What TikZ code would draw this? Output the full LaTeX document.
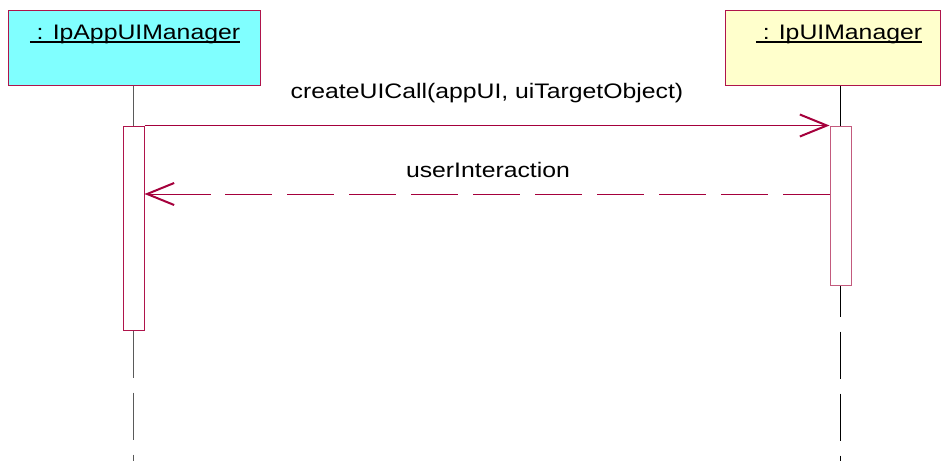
\documentclass[tikz,border=0pt]{standalone}
\usepackage{fontspec}
\setmainfont{Liberation Sans}[FakeStretch=1.18]
\usetikzlibrary{arrows.meta}
\definecolor{frame}{RGB}{175,20,75}
\definecolor{actfr}{RGB}{195,90,125}
\definecolor{msg}{RGB}{165,0,60}
\definecolor{cyanfill}{RGB}{128,255,255}
\definecolor{yellowfill}{RGB}{255,255,204}
\definecolor{lifegray}{RGB}{90,90,90}
\newcommand\ulbar[1]{\setbox0\hbox{#1}\rlap{\rule[-3.7pt]{\wd0}{2.2pt}}\box0}
\tikzset{
  objbox/.style={draw=frame, line width=1pt, inner sep=0pt, minimum height=75pt},
  objtitle/.style={anchor=base, inner sep=0pt, font=\fontsize{21pt}{24pt}\selectfont},
  actbox/.style={draw=actfr, fill=white, line width=1pt, inner sep=0pt, minimum width=21pt},
  lifeline/.style={draw=lifegray, line width=1pt},
  lifedash/.style={lifeline, dash pattern=on 47pt off 15pt},
  msgplain/.style={draw=msg, line width=1pt},
  msgline/.style={msgplain, -{Straight Barb[length=27pt,width=22pt,line width=2pt]}},
  msgdash/.style={msgplain, dash pattern=on 47pt off 15pt},
  msglabel/.style={anchor=base, inner sep=0pt, font=\fontsize{21pt}{24pt}\selectfont}
}
\begin{document}
\begin{tikzpicture}[x=1pt,y=-1pt]
\useasboundingbox (0,0) rectangle (941,461);
% objects
\node[objbox, fill=cyanfill, minimum width=252pt] (a) at (134,47.5) {};
\node[objbox, fill=yellowfill, minimum width=215pt] (b) at (833,47.5) {};
\node[objtitle] (at) at (135,39) {\ulbar{\ : IpAppUIManager}};
\node[objtitle] (bt) at (839,39) {\ulbar{\ : IpUIManager}};
% activations
\node[actbox, minimum height=204pt] (act1) at (133.5,228) {};
\node[actbox, minimum height=159pt] (act2) at (840.5,205.5) {};
% lifelines
\coordinate (endL) at (133.5,461);
\coordinate (endR) at (840.5,461);
\draw[lifeline] (a.south -| act1.north) -- (act1.north);
\draw[draw=black, line width=1pt] (b.south -| act2.north) -- (act2.north);
\draw[lifedash] (act1.south) -- (endL);
\draw[lifedash, draw=black, dash phase=16pt] (act2.south) -- (endR);
\node[actbox, draw=frame, minimum height=204pt] at (act1) {};
\node[actbox, minimum height=159pt] at (act2) {};
% messages
\coordinate (m2) at (0,194);
\coordinate (m2L) at (m2 -| act1.east);
\coordinate (m2R) at (m2 -| act2.west);
\draw[msgline] (act1.north east) -- (act2.north west);
\node[msglabel] (l1) at (487,98) {createUICall(appUI, uiTargetObject)};
\draw[msgdash] (m2R) -- ([xshift=66pt]m2L);
\draw[msgline] ([xshift=66pt]m2L) -- (m2L);
\node[msglabel] (l2) at (488,177) {userInteraction};
\end{tikzpicture}
\end{document}
